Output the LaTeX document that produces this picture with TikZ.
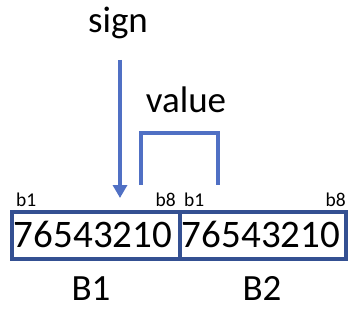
\documentclass[tikz,border=0pt]{standalone}
\usepackage{fontspec}
\setmainfont{Carlito}
\usetikzlibrary{arrows.meta}
\definecolor{lineblue}{RGB}{80,112,196}
\definecolor{boxblue}{RGB}{52,80,146}
\tikzset{
  big/.style={font=\fontsize{37}{40}\selectfont, inner sep=0pt, text=black},
  small/.style={font=\fontsize{19.5}{21}\selectfont, inner sep=0pt, text=black},
  cell/.style={draw=boxblue, line width=4pt, inner sep=0pt, minimum width=168pt, minimum height=47pt},
  digits/.style={font=\fontsize{39}{40}\selectfont, inner sep=0pt, text=black},
  blueline/.style={draw=lineblue, line width=4pt},
}
\begin{document}
\begin{tikzpicture}[x=1pt,y=-1pt]
\useasboundingbox (0,0) rectangle (352,320);
% labels
\node[big, anchor=base] (sign) at (118,33) {sign};
\node[big, anchor=base] (value) at (186,113) {value};
% byte cells
\node[cell] (c1) at (96,235.5) {};
\node[cell, minimum width=166pt] (c2) at (263,235.5) {};
\node[digits, anchor=base] (d1) at (93,247) {76543210};
\node[digits, anchor=base] (d2) at (261,247) {76543210};
% bit labels
\node[small, anchor=base west] (b11) at (16,206) {b1};
\node[small, anchor=base east] (b18) at (176,206) {b8};
\node[small, anchor=base west] (b21) at (184,206) {b1};
\node[small, anchor=base east] (b28) at (346,206) {b8};
% byte names
\node[big, anchor=base] (B1) at (91,300) {B1};
\node[big, anchor=base] (B2) at (262,300) {B2};
% sign arrow
\coordinate (s0) at (120,60);
\coordinate (s1) at (120,198);
\draw[blueline, -{Triangle[width=14pt,length=13pt]}] (s0) -- (s1);
% value bracket
\coordinate (v0) at (141,185);
\coordinate (v1) at (218,185);
\draw[blueline, line join=miter] (v0) -- (141,133) -- (218,133) -- (v1);
\end{tikzpicture}
\end{document}
